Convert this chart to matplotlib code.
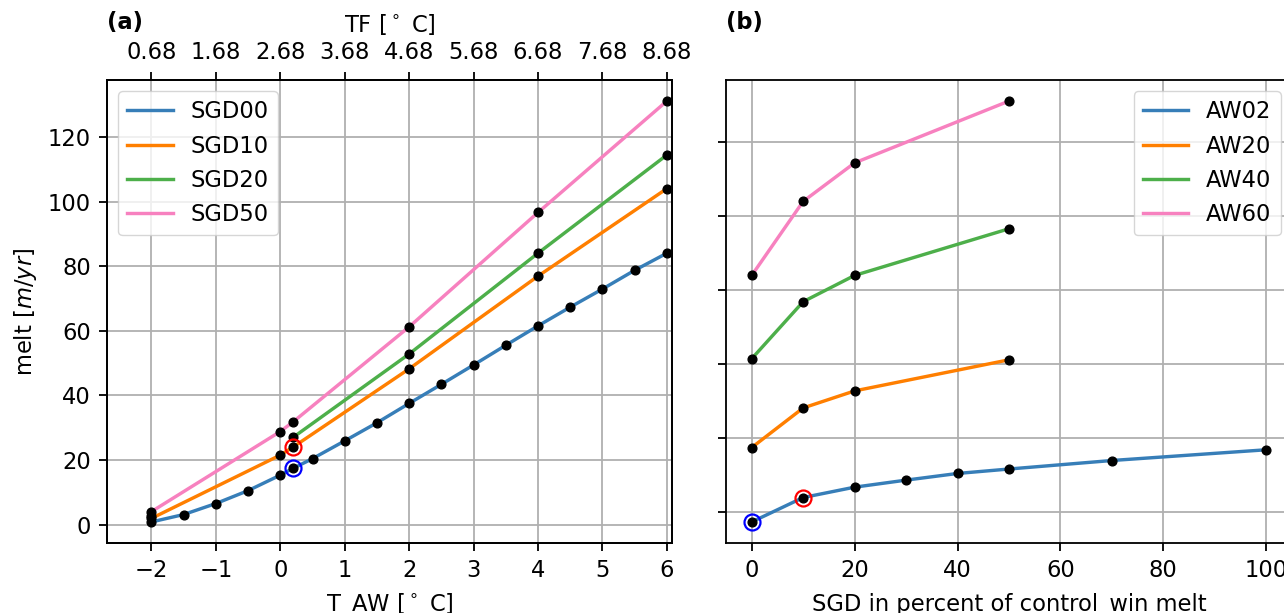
import matplotlib
matplotlib.use("Agg")
import matplotlib.pyplot as plt

# ---- data -------------------------------------------------------------
colors = ["#377eb8", "#ff7f00", "#4daf4a", "#f781bf"]

# (a) melt versus Atlantic Water temperature for each subglacial discharge level
sgd_labels = ["SGD00", "SGD10", "SGD20", "SGD50"]
t_sgd00 = [-2, -1.5, -1, -0.5, 0, 0.2, 0.5, 1, 1.5, 2, 2.5, 3, 3.5, 4, 4.5, 5, 5.5, 6]
m_sgd00 = [0.8, 3.1, 6.5, 10.5, 15.3, 17.4, 20.4, 25.9, 31.5, 37.5, 43.4, 49.4, 55.5, 61.5, 67.3, 72.9, 78.7, 84.0]
t_sgd10 = [-2, 0, 0.2, 2, 4, 6]
m_sgd10 = [1.9, 21.5, 24.0, 48.2, 76.9, 104.0]
t_sgd20 = [0.2, 2, 4, 6]
m_sgd20 = [27.0, 52.8, 84.0, 114.4]
t_sgd50 = [-2, 0, 0.2, 2, 4, 6]
m_sgd50 = [4.0, 28.8, 31.8, 61.2, 96.6, 131.1]
# additional run without a connecting line
t_extra = [-2]
m_extra = [2.7]

# (b) melt versus subglacial discharge for each Atlantic Water temperature
aw_labels = ["AW02", "AW20", "AW40", "AW60"]
s_aw02 = [0, 10, 20, 30, 40, 50, 70, 100]
m_aw02 = [17.4, 24.0, 26.8, 28.7, 30.5, 31.7, 34.0, 36.9]
s_aw20 = [0, 10, 20, 50]
m_aw20 = [37.5, 48.2, 52.8, 61.2]
s_aw40 = [0, 10, 20, 50]
m_aw40 = [61.5, 76.9, 84.0, 96.6]
s_aw60 = [0, 10, 20, 50]
m_aw60 = [84.0, 104.0, 114.4, 131.1]

# highlighted runs: control (blue) and 10 % SGD (red)
ctrl_t, ctrl_s, ctrl_m = 0.2, 0, 17.4
sgd10_t, sgd10_s, sgd10_m = 0.2, 10, 24.0

t_ticks = [-2, -1, 0, 1, 2, 3, 4, 5, 6]
tf_offset = 2.68

# ---- figure -----------------------------------------------------------
k = 1.63  # overall scale of the default style
fs = 10 * k
plt.rcParams.update({
    "font.size": fs,
    "font.family": "DejaVu Sans",
    "axes.linewidth": 0.8 * k,
    "xtick.major.size": 3.5 * k,
    "ytick.major.size": 3.5 * k,
    "xtick.major.width": 0.8 * k,
    "ytick.major.width": 0.8 * k,
    "xtick.major.pad": 3.5 * k,
    "ytick.major.pad": 3.5 * k,
    "axes.labelpad": 4.0 * k,
    "grid.linewidth": 0.8 * k,
    "grid.color": "#b0b0b0",
    "legend.fontsize": fs,
})
fig = plt.figure(figsize=(12.84, 6.13), dpi=100)

axa = fig.add_axes([107 / 1284, 70 / 613, 565 / 1284, 463 / 613])
axb = fig.add_axes([726 / 1284, 70 / 613, 566 / 1284, 463 / 613])

lw = 1.5 * k
dot = dict(marker="o", ls="none", color="black", ms=6.3, zorder=4)
ring = dict(marker="o", ms=11.5, mfc="none", mew=1.6, ls="none", zorder=5)

series_a = [(t_sgd00, m_sgd00), (t_sgd10, m_sgd10), (t_sgd20, m_sgd20), (t_sgd50, m_sgd50)]
for (t, m), c, lab in zip(series_a, colors, sgd_labels):
    axa.plot(t, m, color=c, lw=lw, label=lab, zorder=3)
for t, m in series_a:
    axa.plot(t, m, **dot)
axa.plot(t_extra, m_extra, **dot)
axa.plot([ctrl_t], [ctrl_m], mec="blue", **ring)
axa.plot([sgd10_t], [sgd10_m], mec="red", **ring)

axa.set_xlim(-2.69, 6.08)
axa.set_xticks(t_ticks)
axa.set_xticklabels([f"{t:d}".replace("-", "\u2212") for t in t_ticks])
axa.grid(True)
axa.set_axisbelow(True)
axa.set_xlabel("T_AW [$^\\circ$ C]")
axa.set_ylabel("melt [$m/yr$]")
axa.legend(loc="upper left")
axa.set_yticks([0, 20, 40, 60, 80, 100, 120])

top = axa.twiny()
top.set_xlim(axa.get_xlim())
top.set_xticks(t_ticks)
top.set_xticklabels([f"{t + tf_offset:.2f}" for t in t_ticks])
top.set_xlabel("TF [$^\\circ$ C]")

series_b = [(s_aw02, m_aw02), (s_aw20, m_aw20), (s_aw40, m_aw40), (s_aw60, m_aw60)]
for (s, m), c, lab in zip(series_b, colors, aw_labels):
    axb.plot(s, m, color=c, lw=lw, label=lab, zorder=3)
for s, m in series_b:
    axb.plot(s, m, **dot)
axb.plot([ctrl_s], [ctrl_m], mec="blue", **ring)
axb.plot([sgd10_s], [sgd10_m], mec="red", **ring)

axb.set_xlim(-5, 105)
axb.set_xticks([0, 20, 40, 60, 80, 100])
axb.set_yticks([20, 40, 60, 80, 100, 120])
axb.tick_params(axis="y", labelleft=False)
axb.grid(True)
axb.set_axisbelow(True)
axb.set_xlabel("SGD in percent of control_win melt", labelpad=4.0 * k + 1.2)
axb.legend(loc="upper right")

fig.text(107 / 1284, 1 - 22 / 613, "(a)", fontweight="bold", va="center", ha="left")
fig.text(726 / 1284, 1 - 22 / 613, "(b)", fontweight="bold", va="center", ha="left")

fig.savefig("out.png", dpi=100)
